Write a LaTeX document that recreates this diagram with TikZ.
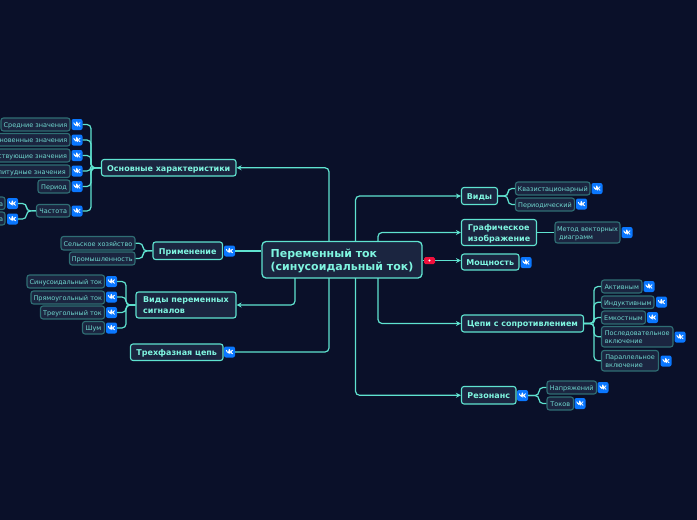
\documentclass[tikz,border=0pt]{standalone}
\usepackage{fontspec}
\setmainfont{DejaVu Sans}
\usetikzlibrary{arrows.meta}
\definecolor{bgc}{HTML}{0A1029}
\definecolor{boxf}{HTML}{1B2540}
\definecolor{tealA}{HTML}{5FE3D0}
\definecolor{tealB}{HTML}{2F6E74}
\definecolor{txtA}{HTML}{7FF5E0}
\definecolor{txtB}{HTML}{70D8D0}
\definecolor{vkb}{HTML}{0A77FF}
\definecolor{ytr}{HTML}{F0103C}
\tikzset{
  boxbase/.style={rounded corners=2.5pt,fill=boxf,inner sep=0pt},
  root/.style={boxbase,draw=tealA,line width=1.3pt,rounded corners=4pt,text=txtA,font=\bfseries\fontsize{11}{13}\selectfont,/utils/exec={\def\tsh{-1.2pt}}},
  topic/.style={boxbase,draw=tealA,line width=1.1pt,text=txtA,font=\bfseries\fontsize{8}{11}\selectfont,/utils/exec={\def\tsh{-1.2pt}}},
  leaf/.style={boxbase,draw=tealB,line width=1.1pt,text=txtB,font=\fontsize{6.5}{8.2}\selectfont,/utils/exec={\def\tsh{-1.2pt}}},
  conn/.style={draw=tealA,line width=1.2pt,rounded corners=4pt},
  arr/.style={conn,-{Stealth[length=5pt,width=5pt]}},
  vk/.style={fill=vkb,rounded corners=2pt,minimum size=11pt,inner sep=0pt,
    path picture={
      \draw[white,line width=.9pt,line join=round,line cap=round]
        ([shift={(-3.1pt,1.7pt)}]path picture bounding box.center) -- ++(1.6pt,-3.3pt) -- ++(1.3pt,2.2pt) -- ++(0,1.1pt)
        ([shift={(.3pt,1.7pt)}]path picture bounding box.center) -- ++(0,-3.4pt)
        ([shift={(3.1pt,1.7pt)}]path picture bounding box.center) -- ++(-2.6pt,-1.7pt) -- ++(2.6pt,-1.7pt);
    }},
  yts/.style={fill=ytr,rounded corners=1.5pt,minimum width=11pt,minimum height=7pt,inner sep=0pt,
    path picture={\fill[white] (path picture bounding box.center) circle (1.2pt);}},
}
\newcommand{\bx}[7]{%
  \pgfmathsetmacro{\cxv}{(#3+#4)/2}\pgfmathsetmacro{\cyv}{(#5+#6)/2}%
  \pgfmathsetmacro{\wv}{#4-(#3)}\pgfmathsetmacro{\hv}{#6-(#5)}%
  \node[#1,minimum width=\wv pt,minimum height=\hv pt] (#2) at (\cxv,\cyv)
    {\raisebox{\tsh}[\height][\depth]{\begin{tabular}{@{}l@{}}#7\end{tabular}}};}
\newcommand{\vkn}[3]{\node[vk] (#1) at (#2,#3) {};}
\begin{document}
\begin{tikzpicture}[x=1pt,y=-1pt]
\useasboundingbox (0,0) rectangle (697,520);
\clip (0,0) rectangle (697,520);
\fill[bgc] (0,0) rectangle (697,520);

% bus points
\coordinate (busA) at (91,168);
\coordinate (busB) at (26.5,211);
\coordinate (busC) at (143,251);
\coordinate (busD) at (126,305);
\coordinate (busE) at (508,196);
\coordinate (busF) at (594,323.5);
\coordinate (busG) at (539,395.5);
\coordinate (trA) at (329,241.5);
\coordinate (trB) at (355.5,241.5);
\coordinate (trC) at (378,241.5);
\coordinate (trD) at (295,278);
\coordinate (trE) at (329,278);
\coordinate (trF) at (355.5,278);
\coordinate (trG) at (378,278);

% nodes
\bx{root}{main}{262}{422}{241.5}{278}{Переменный ток\\(синусоидальный ток)}
\node[yts] (yt) at (429.5,260.5) {};

\bx{topic}{osn}{101.5}{236}{159.5}{176}{Основные характеристики}
\bx{topic}{prim}{153}{222.5}{242}{259.5}{Применение}
\bx{topic}{vid}{136}{236}{292}{318}{Виды переменных\\сигналов}
\bx{topic}{tri}{130.5}{223}{344}{360.5}{Трехфазная цепь}
\bx{topic}{vidy}{461.5}{497.5}{187.5}{204.5}{Виды}
\bx{topic}{graf}{461.5}{536.5}{219.5}{245.5}{Графическое\\изображение}
\bx{topic}{mosh}{461.5}{519}{254}{270}{Мощность}
\bx{topic}{cep}{461.5}{583.5}{315}{332}{Цепи с сопротивлением}
\bx{topic}{rez}{461.5}{516}{386.5}{404}{Резонанс}

\bx{leaf}{l1}{1}{70}{118}{131}{Средние значения}
\bx{leaf}{l2}{-12}{70}{133.5}{146}{Мгновенные значения}
\bx{leaf}{l3}{-18}{70}{149}{162}{Действующие значения}
\bx{leaf}{l4}{-20}{70}{165}{177.5}{Амплитудные значения}
\bx{leaf}{l5}{38}{70}{180}{193}{Период}
\bx{leaf}{l6}{36.5}{70}{204.5}{217}{Частота}
\bx{leaf}{l7}{-40}{5}{197}{209.5}{\makebox[41pt][r]{а}}
\bx{leaf}{l8}{-40}{5}{212}{225}{\makebox[41pt][r]{а}}
\bx{leaf}{p1}{61}{135}{236.5}{250}{Сельское хозяйство}
\bx{leaf}{p2}{69.5}{135}{252}{265}{Промышленность}
\bx{leaf}{s1}{27}{104.5}{275}{288}{Синусоидальный ток}
\bx{leaf}{s2}{31}{104.5}{291}{304}{Прямоугольный ток}
\bx{leaf}{s3}{40.5}{104.5}{306}{319}{Треугольный ток}
\bx{leaf}{s4}{82.5}{104.5}{321.5}{334}{Шум}
\bx{leaf}{v1}{515.5}{590}{182}{195}{Квазистационарный}
\bx{leaf}{v2}{515.5}{574.5}{198}{211}{Периодический}
\bx{leaf}{g1}{555}{620}{222}{243}{Метод векторных\\\hspace{2pt}диаграмм}
\bx{leaf}{c1}{601.5}{642}{280}{293}{Активным}
\bx{leaf}{c2}{601.5}{654}{296}{308.5}{Индуктивным}
\bx{leaf}{c3}{601.5}{645.5}{311}{324}{Емкостным}
\bx{leaf}{c4}{601.5}{673}{326.5}{347}{Последовательное\\включение}
\bx{leaf}{c5}{601.5}{658.5}{350.5}{371}{Параллельное\\включение}
\bx{leaf}{r1}{547}{596.5}{381}{394}{Напряжений}
\bx{leaf}{r2}{547}{573.5}{397}{410}{Токов}

% icons
\vkn{il1}{77}{124.5}\vkn{il2}{77}{140}\vkn{il3}{77}{155.5}\vkn{il4}{77}{171}
\vkn{il5}{77}{186.5}\vkn{il6}{77}{211}\vkn{il7}{12.5}{203.5}\vkn{il8}{12.5}{219}
\vkn{iprim}{229.5}{251}\vkn{itri}{229.5}{352}
\vkn{is1}{111.5}{281.5}\vkn{is2}{111.5}{297}\vkn{is3}{111.5}{312.5}\vkn{is4}{111.5}{328}
\vkn{iv1}{597}{188.5}\vkn{iv2}{581.5}{204}\vkn{ig1}{627}{232.5}\vkn{imosh}{526}{262.5}
\vkn{ic1}{649}{286.5}\vkn{ic2}{661.5}{302}\vkn{ic3}{652.5}{317.5}\vkn{ic4}{680}{337}\vkn{ic5}{666}{361}
\vkn{irez}{522.5}{395.5}\vkn{ir1}{603}{387.5}\vkn{ir2}{580}{403.5}

% connectors from root
\draw[arr] (trA) |- (osn.east);
\draw[arr] (trD) |- (vid.east);
\draw[conn] (iprim.east) -- (main.west |- iprim.east);
\draw[conn] (itri.east) -| (trE);
\draw[arr] (trB) |- (vidy.west);
\draw[arr] (trC) |- (graf.west);
\draw[arr] (trF) |- (rez.west);
\draw[arr] (trG) |- (cep.west);
\draw[conn] (main.east |- yt.west) -- (yt.west);
\draw[arr] (yt.east) -- (mosh.west |- yt.east);

% brackets
\foreach \c in {il1,il2,il3,il4,il5,il6}{\draw[conn] (osn.west) -- (busA) |- (\c.east);}
\foreach \c in {il7,il8}{\draw[conn] (l6.west) -- (busB) |- (\c.east);}
\foreach \c in {p1,p2}{\draw[conn] (prim.west) -- (busC) |- (\c.east);}
\foreach \c in {is1,is2,is3,is4}{\draw[conn] (vid.west) -- (busD) |- (\c.east);}
\foreach \c in {v1,v2}{\draw[conn] (vidy.east) -- (busE) |- (\c.west);}
\draw[conn] (graf.east) -- (g1.west);
\foreach \c in {c1,c2,c3,c4,c5}{\draw[conn] (cep.east) -- (busF) |- (\c.west);}
\foreach \c in {r1,r2}{\draw[conn] (irez.east) -- (busG) |- (\c.west);}
\end{tikzpicture}
\end{document}
